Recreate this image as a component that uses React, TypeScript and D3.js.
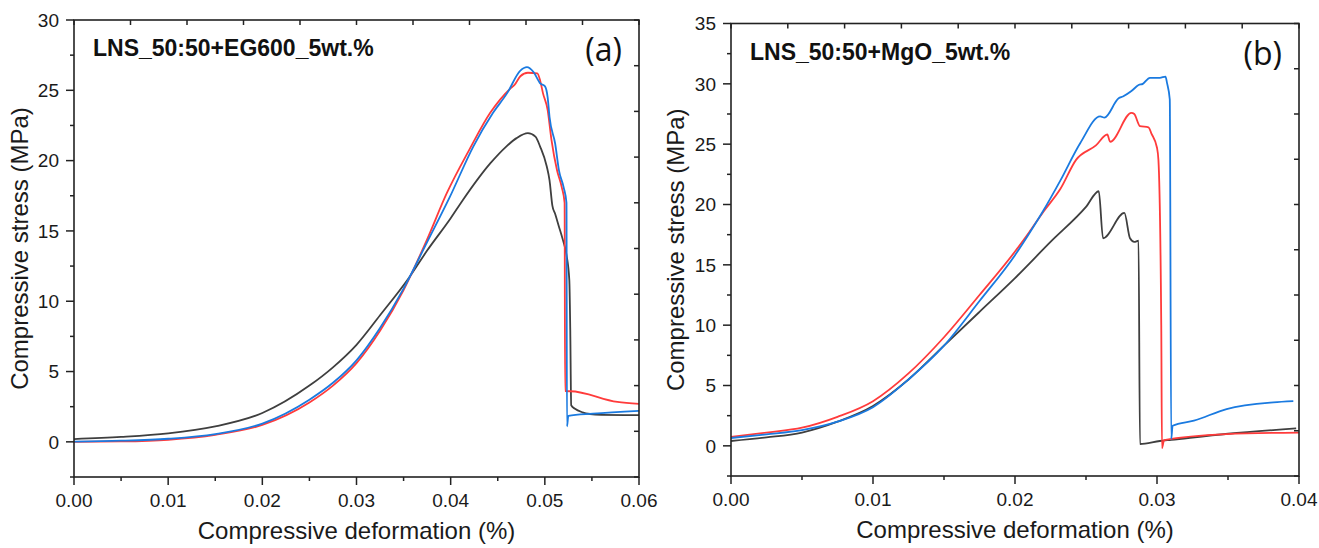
import React from "react";
import * as d3 from "d3";

// ---------------- Panel (a) data: [deformation (%), stress (MPa)] ----------------
const aBlack: [number, number][] = [
  [0, 0.2], [0.005, 0.35], [0.01, 0.6], [0.015, 1.1], [0.02, 2.05], [0.025, 4.0],
  [0.0275, 5.3], [0.03, 6.9], [0.0325, 9.0], [0.0355, 11.6], [0.0375, 13.6], [0.04, 15.9],
  [0.0413, 17.2], [0.0442, 19.8], [0.0459, 21.0], [0.047, 21.6], [0.0482, 21.95],
  [0.049, 21.7], [0.0495, 21.0], [0.0502, 19.6], [0.0505, 18.6], [0.0508, 16.8],
  [0.0511, 16.2], [0.0515, 15.3], [0.0519, 14.4], [0.0523, 13.3], [0.0526, 11.5],
  [0.0527, 8.0], [0.0528, 2.6], [0.0532, 2.35], [0.054, 2.1], [0.0548, 1.98],
  [0.056, 1.92], [0.06, 1.9],
];
const aRed: [number, number][] = [
  [0, 0.0], [0.005, 0.03], [0.01, 0.15], [0.015, 0.5], [0.02, 1.2], [0.025, 2.8],
  [0.0275, 4.0], [0.03, 5.6], [0.0325, 7.9], [0.035, 10.8], [0.0375, 14.4],
  [0.0396, 17.7], [0.042, 20.8], [0.0442, 23.4], [0.0463, 25.1], [0.0468, 25.4],
  [0.0474, 26.0], [0.0482, 26.25], [0.0492, 26.2], [0.0495, 25.7], [0.0498, 24.8],
  [0.0503, 23.6], [0.0507, 21.5], [0.0513, 19.3], [0.0518, 18.1], [0.0521, 17.0],
  [0.05215, 3.6], [0.0527, 3.6], [0.0577, 2.84], [0.06, 2.7],
];
const aBlue: [number, number][] = [
  [0, 0.02], [0.005, 0.08], [0.01, 0.22], [0.015, 0.55], [0.02, 1.3], [0.025, 3.0],
  [0.0275, 4.2], [0.03, 5.8], [0.0325, 8.1], [0.035, 10.9], [0.0375, 14.2],
  [0.0399, 17.4], [0.0424, 21.0], [0.0445, 23.4], [0.046, 24.8], [0.0474, 26.4],
  [0.0481, 26.65], [0.0488, 26.3], [0.0495, 25.5], [0.05, 25.3], [0.0503, 24.5],
  [0.0505, 23.1], [0.0511, 21.2], [0.0515, 19.3], [0.052, 18.1], [0.0523, 17.0],
  [0.05235, 1.1], [0.0525, 1.85], [0.0551, 2.0], [0.06, 2.2],
];

// ---------------- Panel (b) data ----------------
const bBlack: [number, number][] = [
  [0, 0.4], [0.0025, 0.7], [0.005, 1.1], [0.0075, 2.0], [0.01, 3.3], [0.0125, 5.5],
  [0.015, 8.3], [0.0175, 11.1], [0.02, 13.9], [0.0225, 16.9], [0.025, 19.8],
  [0.0259, 21.1], [0.0262, 17.2], [0.0277, 19.3], [0.0281, 17.2], [0.0284, 16.9],
  [0.0287, 17.0], [0.0288, 0.15], [0.0302, 0.4], [0.031, 0.5], [0.035, 1.0],
  [0.0398, 1.44],
];
const bRed: [number, number][] = [
  [0, 0.75], [0.0025, 1.1], [0.005, 1.5], [0.0075, 2.4], [0.01, 3.7], [0.0125, 6.0],
  [0.015, 9.0], [0.0175, 12.5], [0.02, 16.1], [0.021, 17.7], [0.022, 19.4],
  [0.0232, 21.3], [0.0243, 23.7], [0.0257, 24.9], [0.0265, 25.8], [0.0267, 25.2],
  [0.0282, 27.6], [0.0284, 27.5], [0.0288, 26.5], [0.0294, 26.4], [0.0296, 25.9],
  [0.03, 24.7], [0.0301, 23.7], [0.0303, 10.0], [0.03035, -0.2], [0.0305, 0.47],
  [0.0349, 0.97], [0.04, 1.1],
];
const bBlue: [number, number][] = [
  [0, 0.65], [0.0025, 0.95], [0.005, 1.3], [0.0075, 2.0], [0.01, 3.2], [0.0125, 5.5],
  [0.015, 8.3], [0.0175, 12.0], [0.02, 15.8], [0.021, 17.6], [0.022, 19.5],
  [0.0232, 22.0], [0.0246, 25.1], [0.026, 27.3], [0.0263, 27.2], [0.0273, 28.8],
  [0.0276, 28.95], [0.0282, 29.4], [0.0287, 29.9], [0.029, 30.0], [0.0295, 30.5],
  [0.0302, 30.5], [0.0306, 30.6], [0.0307, 30.1], [0.0309, 28.7], [0.031, 0.55],
  [0.0311, 1.66], [0.0326, 2.08], [0.0349, 3.05], [0.0382, 3.6], [0.0396, 3.7],
];

// ---------------- Ticks & labels ----------------
const aXTicks = [0, 0.01, 0.02, 0.03, 0.04, 0.05, 0.06];
const aXMinor = [0.005, 0.015, 0.025, 0.035, 0.045, 0.055];
const aYTicks = [0, 5, 10, 15, 20, 25, 30];
const aYMinor = [-2.5, 2.5, 7.5, 12.5, 17.5, 22.5, 27.5];
const bXTicks = [0, 0.01, 0.02, 0.03, 0.04];
const bXMinor = [0.005, 0.015, 0.025, 0.035];
const bYTicks = [0, 5, 10, 15, 20, 25, 30, 35];
const bYMinor = [-2.5, 2.5, 7.5, 12.5, 17.5, 22.5, 27.5, 32.5];

const aLabel = "LNS_50:50+EG600_5wt.%";
const bLabel = "LNS_50:50+MgO_5wt.%";
const xTitle = "Compressive deformation (%)";
const yTitle = "Compressive stress (MPa)";

const COLORS = { black: "#3f3f3f", red: "#ff3b3b", blue: "#1a7ae0" };
const AXIS = "#222";
const FONT = "'Liberation Sans', Arial, sans-serif";

type PanelProps = {
  left: number; right: number; top: number; bottom: number;
  xDomain: [number, number]; yDomain: [number, number];
  xTicks: number[]; xMinor: number[]; yTicks: number[]; yMinor: number[];
  series: { data: [number, number][]; color: string }[];
  label: string; tag: string; yTitleX: number;
};

function Panel(p: PanelProps) {
  const x = d3.scaleLinear().domain(p.xDomain).range([p.left, p.right]);
  const y = d3.scaleLinear().domain(p.yDomain).range([p.bottom, p.top]);
  const line = d3
    .line<[number, number]>()
    .x((d) => x(d[0]))
    .y((d) => y(d[1]))
    .curve(d3.curveMonotoneX);
  const topTicks = d3.range(11).map((i) => p.left + (i * (p.right - p.left)) / 10);
  const rightTicks = d3.range(11).map((i) => p.top + (i * (p.bottom - p.top)) / 10);
  const cx = (p.left + p.right) / 2;
  const cy = (p.top + p.bottom) / 2;
  return (
    <g>
      {p.series.map((s, i) => (
        <path key={i} d={line(s.data) || ""} fill="none" stroke={s.color} strokeWidth={1.8} strokeLinejoin="round" />
      ))}
      <rect x={p.left} y={p.top} width={p.right - p.left} height={p.bottom - p.top} fill="none" stroke={AXIS} strokeWidth={1.6} />
      {p.xTicks.map((t) => (
        <g key={"xt" + t}>
          <line x1={x(t)} x2={x(t)} y1={p.bottom} y2={p.bottom + 8} stroke={AXIS} strokeWidth={1.5} />
          <text x={x(t)} y={p.bottom + 30} textAnchor="middle" fontSize={19} fontFamily={FONT} fill="#1a1a1a">
            {t.toFixed(2)}
          </text>
        </g>
      ))}
      {p.xMinor.map((t) => (
        <line key={"xm" + t} x1={x(t)} x2={x(t)} y1={p.bottom} y2={p.bottom + 4} stroke={AXIS} strokeWidth={1.5} />
      ))}
      {p.yTicks.map((t) => (
        <g key={"yt" + t}>
          <line x1={p.left - 8} x2={p.left} y1={y(t)} y2={y(t)} stroke={AXIS} strokeWidth={1.5} />
          <text x={p.left - 15} y={y(t)} dy="0.36em" textAnchor="end" fontSize={19} fontFamily={FONT} fill="#1a1a1a">
            {t}
          </text>
        </g>
      ))}
      {p.yMinor.map((t) => (
        <line key={"ym" + t} x1={p.left - 4} x2={p.left} y1={y(t)} y2={y(t)} stroke={AXIS} strokeWidth={1.5} />
      ))}
      {topTicks.map((tx, i) => (
        <line key={"tt" + i} x1={tx} x2={tx} y1={p.top} y2={p.top + 5} stroke={AXIS} strokeWidth={1.5} />
      ))}
      {rightTicks.map((ty, i) => (
        <line key={"rt" + i} x1={p.right - 5} x2={p.right} y1={ty} y2={ty} stroke={AXIS} strokeWidth={1.5} />
      ))}
      <text x={cx} y={p.bottom + 62} textAnchor="middle" fontSize={24} fontFamily={FONT} fill="#1a1a1a">
        {xTitle}
      </text>
      <text transform={`translate(${p.yTitleX},${cy}) rotate(-90)`} textAnchor="middle" fontSize={24} fontFamily={FONT} fill="#1a1a1a">
        {yTitle}
      </text>
      <text x={p.left + 19} y={p.top + 36} fontSize={23} fontWeight="bold" fontFamily={FONT} fill="#111">
        {p.label}
      </text>
      <text x={p.right - 17} y={p.top + 41} textAnchor="end" fontSize={32} fontFamily="'Open Sans', sans-serif" fill="#111">
        {p.tag}
      </text>
    </g>
  );
}

export default function App() {
  return (
    <div style={{ position: "absolute", left: 0, top: 0, width: 1319, height: 548, background: "#fff" }}>
      <svg width={1319} height={548} style={{ display: "block" }}>
        <rect width={1319} height={548} fill="#fff" />
        <Panel
          left={74} right={639} top={20} bottom={477}
          xDomain={[0, 0.06]} yDomain={[-2.5, 30]}
          xTicks={aXTicks} xMinor={aXMinor} yTicks={aYTicks} yMinor={aYMinor}
          series={[
            { data: aBlack, color: COLORS.black },
            { data: aRed, color: COLORS.red },
            { data: aBlue, color: COLORS.blue },
          ]}
          label={aLabel} tag="(a)" yTitleX={28}
        />
        <Panel
          left={731} right={1299} top={23.5} bottom={476}
          xDomain={[0, 0.04]} yDomain={[-2.5, 35]}
          xTicks={bXTicks} xMinor={bXMinor} yTicks={bYTicks} yMinor={bYMinor}
          series={[
            { data: bBlack, color: COLORS.black },
            { data: bRed, color: COLORS.red },
            { data: bBlue, color: COLORS.blue },
          ]}
          label={bLabel} tag="(b)" yTitleX={684}
        />
      </svg>
    </div>
  );
}
